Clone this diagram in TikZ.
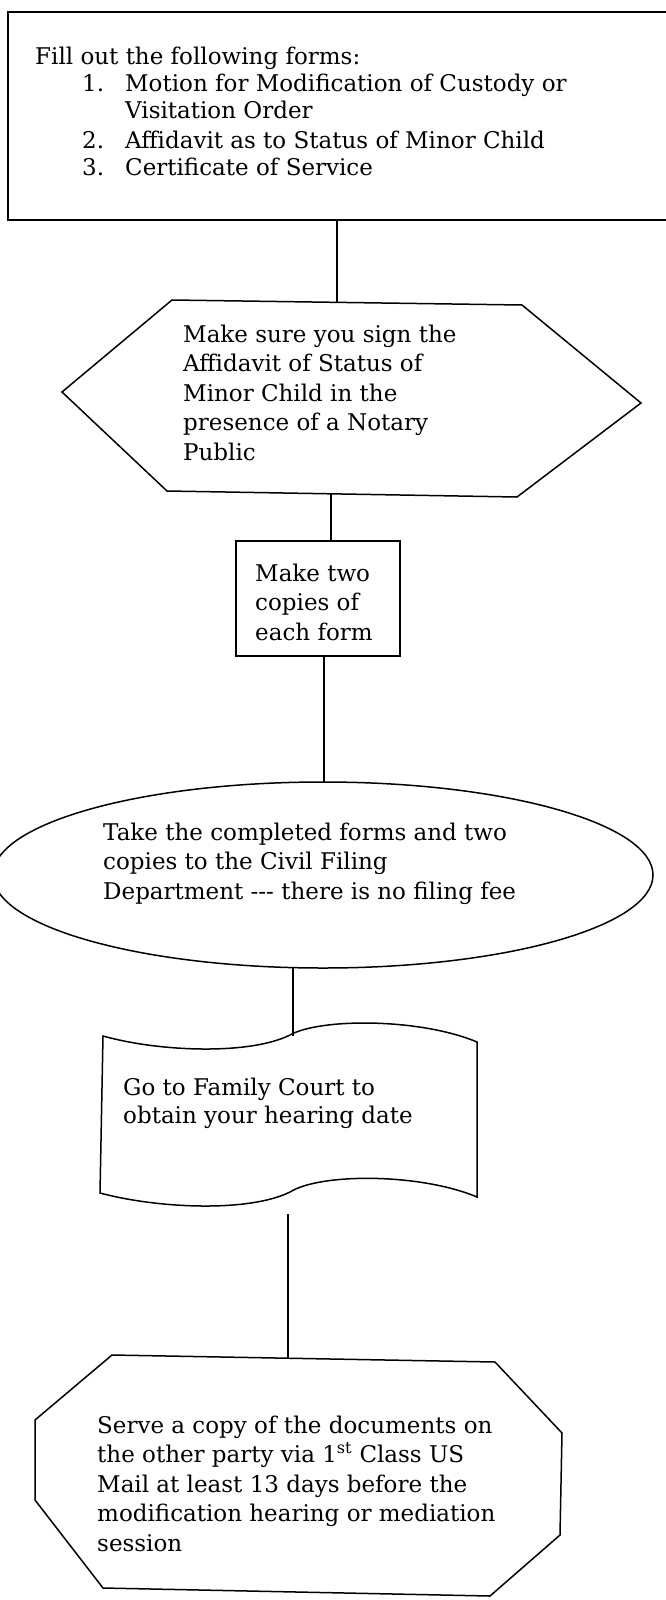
\documentclass[tikz,border=0pt]{standalone}
\usepackage{fontspec}
\setmainfont{DejaVu Serif}
\tikzset{
  outline/.style={draw=black,line width=1.5pt,line join=miter},
  steptext/.style={anchor=base west,align=left,inner sep=0pt,font=\fontsize{23}{29.5}\selectfont}
}
\begin{document}
\begin{tikzpicture}[x=1pt,y=-1pt]
\useasboundingbox (0,0) rectangle (665,1600);
% forms to fill out (base = last line)
\draw[outline] (8,12) rectangle (680,220);
\node[steptext,font=\fontsize{23}{27}\selectfont] (forms) at (35,175) {Fill out the following forms:\\
\hspace*{47pt}\makebox[43pt][l]{1.}Motion for Modification of Custody or\\
\hspace*{90pt}Visitation Order\\[3pt]
\hspace*{47pt}\makebox[43pt][l]{2.}Affidavit as to Status of Minor Child\\
\hspace*{47pt}\makebox[43pt][l]{3.}Certificate of Service};
% notary
\draw[outline] (62,392) -- (172,300) -- (522,305) -- (641,403) -- (517,497) -- (167,491) -- cycle;
\node[steptext] (sign) at (183,460) {Make sure you sign the\\Affidavit of Status of\\Minor Child in the\\presence of a Notary\\Public};
% copies
\draw[outline] (236,541) rectangle (400,656);
\node[steptext] (copies) at (255,640) {Make two\\copies of\\each form};
% filing
\draw[outline] (323,875) ellipse [x radius=330pt,y radius=93pt];
\node[steptext] (filing) at (103,899) {Take the completed forms and two\\copies to the Civil Filing\\Department -{}-{}- there is no filing fee};
% court
\draw[outline] (103,1036) .. controls (160,1052) and (250,1055) .. (290,1035)
  .. controls (320,1018) and (420,1018) .. (477,1042) -- (477,1197)
  .. controls (420,1173) and (320,1173) .. (290,1192)
  .. controls (250,1212) and (160,1209) .. (100,1193) -- cycle;
\node[steptext,font=\fontsize{23}{28}\selectfont] (court) at (123,1123) {Go to Family Court to\\obtain your hearing date};
% serve
\draw[outline] (35,1420) -- (112,1355) -- (495,1362) -- (562,1433) -- (560,1535) -- (490,1596) -- (103,1588) -- (35,1500) -- cycle;
\node[steptext] (serve) at (97,1551) {Serve a copy of the documents on\\the other party via 1\textsuperscript{st} Class US\\Mail at least 13 days before the\\modification hearing or mediation\\session};
% connectors
\coordinate (formsB) at (337,220);
\coordinate (signT) at (337,302);
\coordinate (signB) at (331,494);
\coordinate (copiesT) at (331,541);
\coordinate (copiesB) at (324,656);
\coordinate (filingT) at (324,782);
\coordinate (filingB) at (293,968);
\coordinate (courtT) at (293,1036);
\coordinate (courtB) at (288,1214);
\coordinate (serveT) at (288,1358);
\draw[outline] (formsB) -- (signT);
\draw[outline] (signB) -- (copiesT);
\draw[outline] (copiesB) -- (filingT);
\draw[outline] (filingB) -- (courtT);
\draw[outline] (courtB) -- (serveT);
\end{tikzpicture}
\end{document}
